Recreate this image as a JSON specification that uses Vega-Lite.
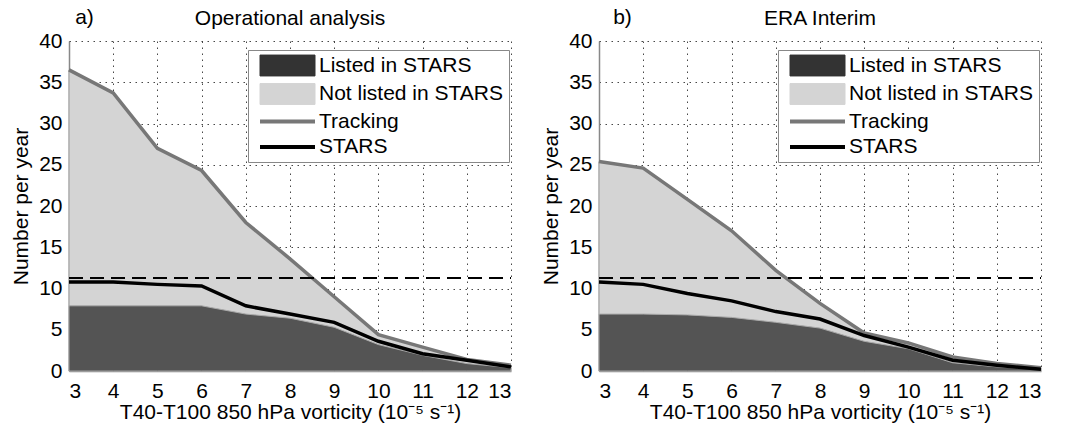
{
  "$schema": "https://vega.github.io/schema/vega-lite/v6.json",
  "background": "white",
  "padding": {"left": 10, "top": 6, "right": 5, "bottom": 5},
  "bounds": "flush",
  "spacing": 88,
  "config": {
    "font": "Liberation Sans",
    "view": {"stroke": null},
    "axis": {
      "labelFont": "Liberation Sans", "labelFontSize": 21, "labelColor": "black",
      "titleFont": "Liberation Sans", "titleFontSize": 21, "titleFontWeight": "normal", "titleColor": "black",
      "grid": true, "gridColor": "#333333", "gridDash": [1.5, 4.5], "gridWidth": 1, "gridOpacity": 0.9,
      "domainColor": "#888888", "domainWidth": 1.5, "ticks": false
    },
    "title": {"font": "Liberation Sans", "fontSize": 21, "fontWeight": "normal", "color": "black", "offset": -22},
    "legend": {
      "orient": "none", "legendX": 179, "legendY": 9, "title": null,
      "labelFont": "Liberation Sans", "labelFontSize": 21, "labelColor": "black", "labelLimit": 400, "labelOffset": 21,
      "fillColor": "white", "strokeColor": "#888888", "padding": 5, "symbolOffset": 24,
      "symbolSize": 3025, "rowPadding": 3.5, "cornerRadius": 0
    }
  },
  "datasets": {
    "op": [
      {"x": 3, "listed": 7.9, "tracking": 36.5, "stars": 10.8},
      {"x": 4, "listed": 7.9, "tracking": 33.7, "stars": 10.8},
      {"x": 5, "listed": 7.9, "tracking": 27.0, "stars": 10.5},
      {"x": 6, "listed": 7.9, "tracking": 24.3, "stars": 10.3},
      {"x": 7, "listed": 6.9, "tracking": 18.0, "stars": 7.9},
      {"x": 8, "listed": 6.4, "tracking": 13.6, "stars": 6.9},
      {"x": 9, "listed": 5.3, "tracking": 9.0, "stars": 5.9},
      {"x": 10, "listed": 3.2, "tracking": 4.4, "stars": 3.6},
      {"x": 11, "listed": 1.9, "tracking": 2.9, "stars": 2.1},
      {"x": 12, "listed": 0.9, "tracking": 1.4, "stars": 1.3},
      {"x": 13, "listed": 0.4, "tracking": 0.7, "stars": 0.5}
    ],
    "era": [
      {"x": 3, "listed": 6.9, "tracking": 25.4, "stars": 10.8},
      {"x": 4, "listed": 6.9, "tracking": 24.6, "stars": 10.5},
      {"x": 5, "listed": 6.8, "tracking": 20.8, "stars": 9.4},
      {"x": 6, "listed": 6.5, "tracking": 17.0, "stars": 8.5},
      {"x": 7, "listed": 5.9, "tracking": 12.2, "stars": 7.2},
      {"x": 8, "listed": 5.2, "tracking": 8.2, "stars": 6.3},
      {"x": 9, "listed": 3.6, "tracking": 4.6, "stars": 4.3},
      {"x": 10, "listed": 2.7, "tracking": 3.4, "stars": 2.9},
      {"x": 11, "listed": 1.0, "tracking": 1.7, "stars": 1.3},
      {"x": 12, "listed": 0.5, "tracking": 0.9, "stars": 0.7},
      {"x": 13, "listed": 0.2, "tracking": 0.4, "stars": 0.2}
    ],
    "labels": [
      {"panel": "a", "text": "a)", "x": 3.14, "y": 42.8},
      {"panel": "b", "text": "b)", "x": 3.32, "y": 42.8}
    ]
  },
  "resolve": {"scale": {"color": "independent"}, "legend": {"color": "independent"}},
  "hconcat": [
    {
      "title": {"text": "Operational analysis"},
      "width": 442, "height": 330,
      "data": {"name": "op"},
      "encoding": {
        "x": {"field": "x", "type": "quantitative", "scale": {"domain": [3, 13], "nice": false},
              "axis": {"values": [3,4,5,6,7,8,9,10,11,12,13], "labelPadding": 9, "titlePadding": 0,
                       "title": "T40-T100 850 hPa vorticity (10⁻⁵ s⁻¹)"}},
        "y": {"type": "quantitative", "scale": {"domain": [0, 40], "nice": false},
              "axis": {"values": [0,5,10,15,20,25,30,35,40], "labelPadding": 7, "titlePadding": 7, "title": "Number per year"}}
      },
      "layer": [
        {"mark": {"type": "area", "stroke": "#999999", "strokeWidth": 1}, "encoding": {"y": {"field": "tracking"}, "color": {"datum": "Not listed in STARS"}}},
        {"mark": {"type": "area", "stroke": "#aaaaaa", "strokeWidth": 1, "fillOpacity": 0.8}, "encoding": {"y": {"field": "listed"}, "color": {"datum": "Listed in STARS"}}},
        {"mark": {"type": "line", "strokeWidth": 3.5}, "encoding": {"y": {"field": "tracking"}, "color": {"datum": "Tracking"}}},
        {"mark": {"type": "line", "strokeWidth": 3.5}, "encoding": {"y": {"field": "stars"}, "color": {"datum": "STARS",
          "scale": {"domain": ["Listed in STARS", "Not listed in STARS", "Tracking", "STARS"], "range": ["#333333", "#d4d4d4", "#777777", "#000000"]},
          "legend": {"encode": {"symbols": {"update": {
            "shape": {"signal": "indexof(['Tracking','STARS'], datum.value) >= 0 ? 'M-1,0H1' : 'M-1,-0.38H1V0.38H-1Z'"},
            "fill": {"signal": "datum.value === 'Listed in STARS' ? '#333333' : datum.value === 'Not listed in STARS' ? '#d3d3d3' : 'transparent'"},
            "stroke": {"signal": "datum.value === 'Tracking' ? '#777777' : datum.value === 'STARS' ? '#000000' : datum.value === 'Listed in STARS' ? '#333333' : '#999999'"},
            "strokeWidth": {"signal": "indexof(['Tracking','STARS'], datum.value) >= 0 ? 4 : 1"},
            "opacity": {"value": 1}, "fillOpacity": {"value": 1}
          }}}}}}},
        {"mark": {"type": "rule", "stroke": "black", "strokeWidth": 1.5, "strokeDash": [14, 7]},
         "encoding": {"x": {"datum": 3}, "x2": {"datum": 13}, "y": {"datum": 11.3}}},
        {"data": {"name": "labels"}, "transform": [{"filter": "datum.panel === 'a'"}],
         "mark": {"type": "text", "fontSize": 21, "align": "left", "baseline": "middle", "color": "black"},
         "encoding": {"x": {"field": "x"}, "y": {"field": "y"}, "text": {"field": "text"}}}
      ]
    },
    {
      "title": {"text": "ERA Interim"},
      "width": 442, "height": 330,
      "data": {"name": "era"},
      "encoding": {
        "x": {"field": "x", "type": "quantitative", "scale": {"domain": [3, 13], "nice": false},
              "axis": {"values": [3,4,5,6,7,8,9,10,11,12,13], "labelPadding": 9, "titlePadding": 0,
                       "title": "T40-T100 850 hPa vorticity (10⁻⁵ s⁻¹)"}},
        "y": {"type": "quantitative", "scale": {"domain": [0, 40], "nice": false},
              "axis": {"values": [0,5,10,15,20,25,30,35,40], "labelPadding": 7, "titlePadding": 7, "title": "Number per year"}}
      },
      "layer": [
        {"mark": {"type": "area", "stroke": "#999999", "strokeWidth": 1}, "encoding": {"y": {"field": "tracking"}, "color": {"datum": "Not listed in STARS"}}},
        {"mark": {"type": "area", "stroke": "#aaaaaa", "strokeWidth": 1, "fillOpacity": 0.8}, "encoding": {"y": {"field": "listed"}, "color": {"datum": "Listed in STARS"}}},
        {"mark": {"type": "line", "strokeWidth": 3.5}, "encoding": {"y": {"field": "tracking"}, "color": {"datum": "Tracking"}}},
        {"mark": {"type": "line", "strokeWidth": 3.5}, "encoding": {"y": {"field": "stars"}, "color": {"datum": "STARS",
          "scale": {"domain": ["Listed in STARS", "Not listed in STARS", "Tracking", "STARS"], "range": ["#333333", "#d4d4d4", "#777777", "#000000"]},
          "legend": {"encode": {"symbols": {"update": {
            "shape": {"signal": "indexof(['Tracking','STARS'], datum.value) >= 0 ? 'M-1,0H1' : 'M-1,-0.38H1V0.38H-1Z'"},
            "fill": {"signal": "datum.value === 'Listed in STARS' ? '#333333' : datum.value === 'Not listed in STARS' ? '#d3d3d3' : 'transparent'"},
            "stroke": {"signal": "datum.value === 'Tracking' ? '#777777' : datum.value === 'STARS' ? '#000000' : datum.value === 'Listed in STARS' ? '#333333' : '#999999'"},
            "strokeWidth": {"signal": "indexof(['Tracking','STARS'], datum.value) >= 0 ? 4 : 1"},
            "opacity": {"value": 1}, "fillOpacity": {"value": 1}
          }}}}}}},
        {"mark": {"type": "rule", "stroke": "black", "strokeWidth": 1.5, "strokeDash": [14, 7]},
         "encoding": {"x": {"datum": 3}, "x2": {"datum": 13}, "y": {"datum": 11.3}}},
        {"data": {"name": "labels"}, "transform": [{"filter": "datum.panel === 'b'"}],
         "mark": {"type": "text", "fontSize": 21, "align": "left", "baseline": "middle", "color": "black"},
         "encoding": {"x": {"field": "x"}, "y": {"field": "y"}, "text": {"field": "text"}}}
      ]
    }
  ]
}
